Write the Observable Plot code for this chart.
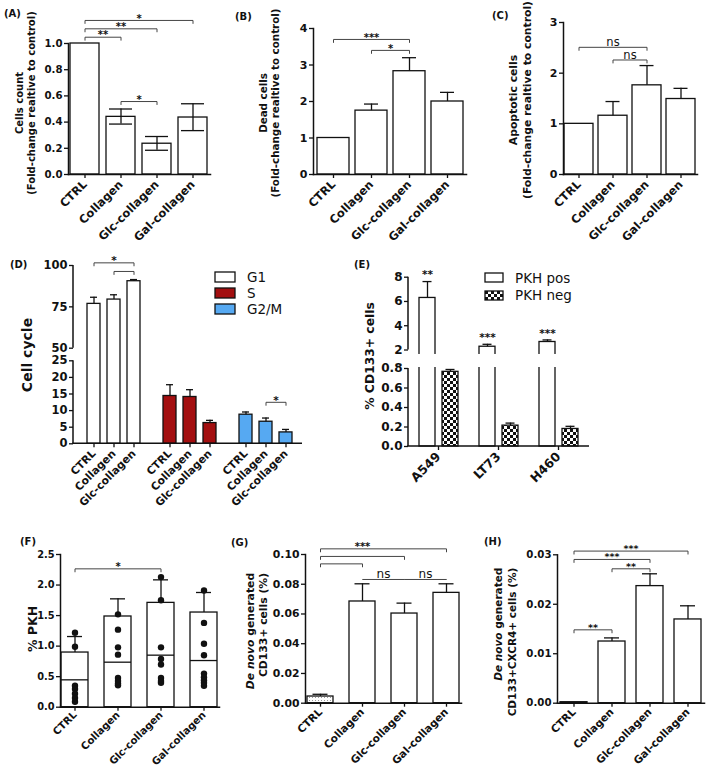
<!DOCTYPE html>
<html>
<head>
<meta charset="utf-8">
<script src="https://cdn.jsdelivr.net/npm/d3@7"></script>
<script src="https://cdn.jsdelivr.net/npm/@observablehq/plot@0.6"></script>
<style>
  html, body { margin: 0; padding: 0; background: #fff; }
  #fig { position: relative; width: 709px; height: 769px; overflow: hidden; background: #fff; color: #111;
         font-family: "DejaVu Sans", sans-serif; }
  .panel { position: absolute; }
  .tag { position: absolute; font-weight: bold; font-size: 10px; line-height: 12px; }
  .ytitle { position: absolute; font-weight: bold; white-space: nowrap; }
  .leg { position: absolute; }
  .leg, .leg * { font-family: "DejaVu Sans", sans-serif !important; font-weight: normal; color: #111; }
  .leg svg { overflow: visible; margin-right: 12px !important; }
  .leg svg rect { stroke: #111; stroke-width: 1.3px; }
</style>
</head>
<body>
<svg width="0" height="0" style="position:absolute">
  <defs>
    <pattern id="checker" width="6" height="6" patternUnits="userSpaceOnUse">
      <rect width="6" height="6" fill="#fff"/>
      <rect width="3" height="3" fill="#111"/>
      <rect x="3" y="3" width="3" height="3" fill="#111"/>
    </pattern>
    <pattern id="dotfill" width="3" height="3" patternUnits="userSpaceOnUse">
      <rect width="3" height="3" fill="#fff"/>
      <rect x="1" y="1" width="1" height="1" fill="#999"/>
    </pattern>
  </defs>
</svg>
<div id="fig"></div>
<script>
// ================= DATA =================
const treatments4 = ["CTRL", "Collagen", "Glc-collagen", "Gal-collagen"];
const treatments3 = ["CTRL", "Collagen", "Glc-collagen"];

// (A) Cells count
const aMean = [1.0, 0.44, 0.235, 0.435];
const aLow  = [null, 0.385, 0.185, 0.335];
const aHigh = [null, 0.50, 0.29, 0.54];
const aTicks = [0, 0.2, 0.4, 0.6, 0.8, 1.0];
const aBrackets = [
  {from: "CTRL", to: "Collagen", y: 1.048, label: "**"},
  {from: "CTRL", to: "Glc-collagen", y: 1.112, label: "**"},
  {from: "CTRL", to: "Gal-collagen", y: 1.176, label: "*"},
  {from: "Collagen", to: "Glc-collagen", y: 0.557, label: "*"}
];

// (B) Dead cells
const bMean = [1.0, 1.75, 2.83, 2.0];
const bHigh = [null, 1.93, 3.2, 2.25];
const bTicks = [0, 1, 2, 3, 4];
const bBrackets = [
  {from: "CTRL", to: "Glc-collagen", y: 3.70, label: "***"},
  {from: "Collagen", to: "Glc-collagen", y: 3.40, label: "*"}
];

// (C) Apoptotic cells
const cMean = [1.0, 1.16, 1.76, 1.49];
const cHigh = [null, 1.44, 2.15, 1.70];
const cTicks = [0, 1, 2, 3];
const cBrackets = [
  {from: "CTRL", to: "Glc-collagen", y: 2.51, label: "ns"},
  {from: "Collagen", to: "Glc-collagen", y: 2.26, label: "ns"}
];

// (D) Cell cycle
const phases = ["G1", "S", "G2/M"];
const phaseColors = ["white", "#a30f10", "#56a9f2"];
const dG1Mean = [76.8, 79.4, 90.5];
const dG1High = [80.8, 82.3, 91.5];
const dSMean = [14.4, 14.1, 6.25];
const dSHigh = [17.8, 16.3, 7.06];
const dG2MMean = [8.77, 6.65, 3.43];
const dG2MHigh = [9.58, 7.76, 4.33];
const dTicks = [0, 5, 10, 15, 20, 25, 50, 75, 100];
const dDomain = [0, 25, 50, 100];           // broken axis: 0–25 | 50–100
const dAxisSegments = [[0, 25], [50, 100]];
const dBrackets = [
  {phase: "G1", from: "CTRL", to: "Glc-collagen", y: 101.6, label: "*"},
  {phase: "G1", from: "Collagen", to: "Glc-collagen", y: 96.4, label: ""},
  {phase: "G2/M", from: "Collagen", to: "Glc-collagen", y: 12.5, label: "*"}
];

// (E) % CD133+ cells
const cellLines = ["A549", "LT73", "H460"];
const pkhGroups = ["PKH pos", "PKH neg"];
const pkhFills = ["white", "url(#checker)"];
const ePosMean = [6.29, 2.27, 2.66];
const ePosHigh = [7.64, 2.47, 2.83];
const eNegMean = [0.766, 0.214, 0.18];
const eNegHigh = [0.79, 0.24, 0.207];
const eStars = ["**", "***", "***"];
const eTicks = [0, 0.2, 0.4, 0.6, 0.8, 2, 4, 6, 8];
const eDomain = [0, 0.8, 2, 8];             // broken axis: 0–0.8 | 2–8
const eAxisSegments = [[0, 0.8], [2, 8]];
const eGap = [0.865, 1.71];

// (F) % PKH
const fMean = [0.895, 1.485, 1.708, 1.55];
const fMedian = [0.448, 0.737, 0.852, 0.764];
const fHigh = [1.157, 1.774, 2.085, 1.878];
const fDotsCTRL = [1.22, 0.99, 0.35, 0.30, 0.22, 0.15, 0.09];
const fDotsCollagen = [1.52, 1.27, 0.98, 0.86, 0.48, 0.43, 0.39, 0.36];
const fDotsGlc = [2.13, 1.75, 0.98, 0.79, 0.70, 0.48, 0.43, 0.40];
const fDotsGal = [1.91, 1.38, 1.04, 0.85, 0.55, 0.49, 0.44, 0.40, 0.35];
const fTicks = [0, 0.5, 1.0, 1.5, 2.0, 2.5];
const fBrackets = [{from: "CTRL", to: "Glc-collagen", y: 2.265, label: "*"}];

// (G) De novo CD133+
const gMean = [0.0045, 0.0684, 0.0603, 0.0742];
const gHigh = [0.006, 0.0803, 0.0673, 0.0803];
const gFills = ["url(#dotfill)", "white", "white", "white"];
const gTicks = [0, 0.02, 0.04, 0.06, 0.08, 0.10];
const gBrackets = [
  {from: "CTRL", to: "Gal-collagen", y: 0.1038, label: ""},
  {from: "CTRL", to: "Glc-collagen", y: 0.0987, label: "***", labelY: 0.1038},
  {from: "CTRL", to: "Collagen", y: 0.0937, label: ""},
  {from: "Collagen", to: "Glc-collagen", y: 0.0832, label: "ns", flat: true},
  {from: "Glc-collagen", to: "Gal-collagen", y: 0.0832, label: "ns", flat: true}
];

// (H) De novo CD133+CXCR4+
const hMean = [0.0002, 0.01247, 0.02367, 0.01693];
const hHigh = [null, 0.0132, 0.02616, 0.01969];
const hFills = ["url(#dotfill)", "white", "white", "white"];
const hTicks = [0, 0.01, 0.02, 0.03];
const hBrackets = [
  {from: "CTRL", to: "Gal-collagen", y: 0.03075, label: "***"},
  {from: "CTRL", to: "Glc-collagen", y: 0.02906, label: "***"},
  {from: "Collagen", to: "Glc-collagen", y: 0.02717, label: "**"},
  {from: "CTRL", to: "Collagen", y: 0.01483, label: "**"}
];

// ================= HELPERS =================
const FONT = '"DejaVu Sans", sans-serif';
const INK = "#111";
const baseStyle = {fontFamily: FONT, fontSize: "10px", fontWeight: "bold", background: "none", overflow: "visible", color: INK};
const fig = document.getElementById("fig");

function place(node, left, top, width) {
  const d = document.createElement("div");
  d.className = "panel";
  d.style.left = left + "px";
  d.style.top = top + "px";
  if (width) d.style.width = width + "px";
  d.appendChild(node);
  fig.appendChild(d);
  return d;
}
function tag(text, left, top) {
  const d = document.createElement("div");
  d.className = "tag";
  d.textContent = text;
  d.style.left = left + "px";
  d.style.top = top + "px";
  fig.appendChild(d);
}
function yTitle(lines, cx, cy, size, lh, align = "center") {
  const d = document.createElement("div");
  d.className = "ytitle";
  d.style.left = cx + "px";
  d.style.top = cy + "px";
  d.style.fontSize = size + "px";
  d.style.lineHeight = lh + "px";
  d.style.textAlign = align;
  d.style.transform = "translate(-50%, -50%) rotate(-90deg)";
  for (const ln of lines) {
    const s = document.createElement("div");
    s.innerHTML = ln;
    d.appendChild(s);
  }
  fig.appendChild(d);
}
function slopeAt(domain, range, v) {
  for (let i = 0; i < domain.length - 1; i++) {
    if (v <= domain[i + 1] || i === domain.length - 2)
      return Math.abs((range[i + 1] - range[i]) / (domain[i + 1] - domain[i]));
  }
}
// place bracket labels halfway between the two bands, via the x scale
const midX = (data, facets, channels, scales) => ({
  data, facets,
  channels: {x: {value: Float64Array.from(data, b => (scales.x(b.from) + scales.x(b.to)) / 2)}}
});
function bracketMarks(brs, dropOf, opt = {}) {
  const {facet = {}, starSize = 10, nsSize = 11.5, starDy = -2, nsDy = -5} = opt;
  const pts = brs.flatMap((b, id) => {
    const d = b.flat ? 0 : dropOf(b.y);
    return [[b.from, b.y - d], [b.from, b.y], [b.to, b.y], [b.to, b.y - d]]
      .map(([cat, yy]) => ({...b, id, cat, yy}));
  });
  const labeled = brs.filter(b => b.label);
  const isStar = b => b.label.includes("*");
  return [
    Plot.line(pts, {...facet, x: "cat", y: "yy", z: "id", stroke: "#444", strokeWidth: 1}),
    Plot.text(labeled.filter(isStar), {...facet, y: b => b.labelY ?? b.y, text: "label",
      fontSize: starSize, dy: starDy, initializer: midX}),
    Plot.text(labeled.filter(b => !isStar(b)), {...facet, y: b => b.labelY ?? b.y, text: "label",
      fontSize: nsSize, fontWeight: "normal", dy: nsDy, initializer: midX})
  ];
}
function brokenAxes(svg, o, segments) {
  const y = svg.scale("y");
  const g = d3.select(svg).append("g").attr("stroke", INK).attr("stroke-width", 1.5).attr("fill", "none");
  for (const [a, b] of segments) {
    g.append("line").attr("x1", o.mL).attr("x2", o.mL).attr("y1", y.apply(a)).attr("y2", y.apply(b));
  }
  g.append("line").attr("x1", o.mL - 0.75).attr("x2", o.width - o.mR)
    .attr("y1", y.apply(0)).attr("y2", y.apply(0));
}

function barPanel(o) {
  const rows = o.cats.map((cat, i) => ({
    cat, mean: o.mean[i], high: o.high[i],
    low: o.low ? o.low[i] : null,
    median: o.median ? o.median[i] : null,
    fill: o.fills ? o.fills[i] : "white"
  }));
  const err = rows.filter(d => d.high != null);
  const lows = rows.filter(d => d.low != null);
  const slope = (o.height - o.mB - o.mT) / (o.domain[1] - o.domain[0]);
  const marks = [
    Plot.barY(rows, {x: "cat", y: "mean", fill: "fill", stroke: INK, strokeWidth: 1.3})
  ];
  if (o.median) marks.push(Plot.tickY(rows, {x: "cat", y: "median", stroke: INK, strokeWidth: 1.3}));
  marks.push(
    Plot.ruleX(err, {x: "cat", y1: d => d.low ?? d.mean, y2: "high", stroke: INK, strokeWidth: 1.3}),
    Plot.tickY(err, {x: "cat", y: "high", insetLeft: o.cap, insetRight: o.cap, stroke: INK, strokeWidth: 1.3}),
    Plot.tickY(lows, {x: "cat", y: "low", insetLeft: o.cap, insetRight: o.cap, stroke: INK, strokeWidth: 1.3})
  );
  if (o.dots) marks.push(Plot.dot(o.dots, {x: "cat", y: "v", r: 3.2, fill: INK}));
  marks.push(...bracketMarks(o.brackets, () => 3 / slope, o.bracketOpt));
  marks.push(
    Plot.frame({anchor: "left", stroke: INK, strokeWidth: 1.5}),
    Plot.frame({anchor: "bottom", stroke: INK, strokeWidth: 1.5}),
    Plot.axisY({ticks: o.ticks, tickFormat: o.fmt, tickSize: 4, tickPadding: 2, label: null,
      fontSize: o.yFont ?? 10.5, stroke: INK, strokeWidth: 1.3}),
    Plot.axisX({tickRotate: -45, tickSize: 4, tickPadding: o.xPad ?? 4, label: null,
      fontSize: o.xFont ?? 11.5, stroke: INK, strokeWidth: 1.3})
  );
  const svg = Plot.plot({
    width: o.width, height: o.height,
    marginLeft: o.mL, marginRight: o.mR, marginTop: o.mT, marginBottom: o.mB,
    x: {domain: o.cats, paddingInner: o.pi, paddingOuter: o.po},
    y: {domain: o.domain},
    color: {type: "identity"},
    style: baseStyle,
    marks
  });
  place(svg, o.left, o.top, o.width);
}

// ================= PANELS A, B, C =================
barPanel({left: 0, top: 0, width: 240, height: 250, mL: 68, mR: 30, mT: 43, mB: 76,
  cats: treatments4, mean: aMean, low: aLow, high: aHigh, brackets: aBrackets,
  pi: 0.185, po: 0.055, cap: 3, domain: [0, 1], ticks: aTicks, fmt: d3.format(".1f"), yFont: 10.2});
barPanel({left: 230, top: 0, width: 240, height: 250, mL: 83, mR: 4, mT: 28, mB: 76,
  cats: treatments4, mean: bMean, high: bHigh, brackets: bBrackets,
  pi: 0.165, po: 0.078, cap: 9, domain: [0, 4], ticks: bTicks, fmt: d3.format("d"), yFont: 11});
barPanel({left: 460, top: 0, width: 249, height: 250, mL: 103, mR: 12, mT: 22, mB: 76,
  cats: treatments4, mean: cMean, high: cHigh, brackets: cBrackets,
  pi: 0.147, po: 0.03, cap: 7.5, domain: [0, 3], ticks: cTicks, fmt: d3.format("d"), yFont: 11});

// ================= PANEL D =================
(function panelD() {
  const o = {left: 0, top: 255, width: 360, height: 290, mL: 73, mR: 58, mT: 10, mB: 101.7,
    range: [188.3, 105.3, 92.7, 10], cap: 3};
  const means = [dG1Mean, dSMean, dG2MMean], highs = [dG1High, dSHigh, dG2MHigh];
  const rows = phases.flatMap((phase, p) => treatments3.map((cat, i) => ({
    phase, cat, mean: means[p][i], high: highs[p][i], fill: phaseColors[p]})));
  const marks = [
    Plot.barY(rows, {fx: "phase", x: "cat", y: "mean", fill: "fill", stroke: INK, strokeWidth: 1.3}),
    Plot.ruleX(rows, {fx: "phase", x: "cat", y1: "mean", y2: "high", stroke: INK, strokeWidth: 1.3}),
    Plot.tickY(rows, {fx: "phase", x: "cat", y: "high", insetLeft: o.cap, insetRight: o.cap, stroke: INK, strokeWidth: 1.3}),
    ...bracketMarks(dBrackets, v => 3 / slopeAt(dDomain, o.range, v), {facet: {fx: "phase"}, starSize: 10.5}),
    Plot.axisY({ticks: dTicks, tickFormat: d3.format("d"), tickSize: 4, tickPadding: 2, label: null,
      fontSize: 11.5, stroke: INK, strokeWidth: 1.3}),
    Plot.axisX({tickRotate: -45, tickSize: 4, tickPadding: 4, label: null, fontSize: 10.8, stroke: INK, strokeWidth: 1.3})
  ];
  const svg = Plot.plot({
    width: o.width, height: o.height,
    marginLeft: o.mL, marginRight: o.mR, marginTop: o.mT, marginBottom: o.mB,
    fx: {domain: phases, axis: null, label: null, paddingInner: 0.079, paddingOuter: 0.046, align: 0},
    x: {domain: treatments3, paddingInner: 0.362, paddingOuter: 0.348, align: 0.82},
    y: {type: "linear", domain: dDomain, range: o.range},
    color: {type: "identity"},
    style: baseStyle,
    marks
  });
  brokenAxes(svg, o, dAxisSegments);
  place(svg, o.left, o.top, o.width);

  const leg = Plot.legend({color: {type: "ordinal", domain: phases, range: phaseColors},
    columns: 1, swatchWidth: 20, swatchHeight: 10,
    style: {fontSize: "13.5px", lineHeight: "15px", background: "none", margin: "0"}});
  const wrap = document.createElement("div");
  wrap.className = "leg";
  wrap.style.left = "215px"; wrap.style.top = "269.5px";
  wrap.style.fontSize = "13.5px"; wrap.style.lineHeight = "15px";
  wrap.appendChild(leg);
  fig.appendChild(wrap);
})();

// ================= PANEL E =================
(function panelE() {
  const o = {left: 360, top: 255, width: 349, height: 290, mL: 48, mR: 120, mT: 21.7, mB: 99,
    range: [191, 113, 94.5, 21.7], cap: 3.5};
  const rows = cellLines.flatMap((cell, i) => [
    {cell, grp: pkhGroups[0], mean: ePosMean[i], high: ePosHigh[i], fill: pkhFills[0]},
    {cell, grp: pkhGroups[1], mean: eNegMean[i], high: eNegHigh[i], fill: pkhFills[1]}
  ]);
  const stars = cellLines.map((cell, i) => ({cell, grp: pkhGroups[0], high: ePosHigh[i], label: eStars[i]}));
  const marks = [
    Plot.barY(rows, {fx: "cell", x: "grp", y: "mean", fill: "fill", stroke: INK, strokeWidth: 1.3}),
    Plot.rect([eGap], {y1: d => d[0], y2: d => d[1], fill: "white"}),
    Plot.ruleX(rows, {fx: "cell", x: "grp", y1: "mean", y2: "high", stroke: INK, strokeWidth: 1.3}),
    Plot.tickY(rows, {fx: "cell", x: "grp", y: "high", insetLeft: o.cap, insetRight: o.cap, stroke: INK, strokeWidth: 1.3}),
    Plot.text(stars, {fx: "cell", x: "grp", y: "high", text: "label", fontSize: 10.5, dy: -6.5}),
    Plot.axisY({ticks: eTicks, tickFormat: d => d < 1 ? d.toFixed(1) : String(d), tickSize: 4, tickPadding: 2,
      label: null, fontSize: 12, stroke: INK, strokeWidth: 1.3}),
    Plot.axisFx({anchor: "bottom", tickRotate: -45, tickSize: 4, tickPadding: 4, label: null,
      fontSize: 12.5, stroke: INK, strokeWidth: 1.3})
  ];
  const svg = Plot.plot({
    width: o.width, height: o.height,
    marginLeft: o.mL, marginRight: o.mR, marginTop: o.mT, marginBottom: o.mB,
    fx: {domain: cellLines, label: null, paddingInner: 0.008, paddingOuter: 0, align: 0},
    x: {domain: pkhGroups, axis: null, paddingInner: 0.326, paddingOuter: 0.467},
    y: {type: "linear", domain: eDomain, range: o.range},
    color: {type: "identity"},
    style: baseStyle,
    marks
  });
  brokenAxes(svg, o, eAxisSegments);
  place(svg, o.left, o.top, o.width);

  const leg = Plot.legend({color: {type: "ordinal", domain: pkhGroups, range: pkhFills},
    columns: 1, swatchWidth: 18, swatchHeight: 9,
    style: {fontSize: "13.5px", lineHeight: "16.5px", background: "none", margin: "0"}});
  const wrap = document.createElement("div");
  wrap.className = "leg";
  wrap.style.left = "485px"; wrap.style.top = "269.7px";
  wrap.style.fontSize = "13.5px"; wrap.style.lineHeight = "16.5px";
  wrap.appendChild(leg);
  fig.appendChild(wrap);
})();

// ================= PANELS F, G, H =================
const fDotGroups = [fDotsCTRL, fDotsCollagen, fDotsGlc, fDotsGal];
const fDots = treatments4.flatMap((cat, i) => fDotGroups[i].map(v => ({cat, v})));
barPanel({left: 0, top: 540, width: 235, height: 229, mL: 60, mR: 16, mT: 14, mB: 62.3,
  cats: treatments4, mean: fMean, median: fMedian, high: fHigh, dots: fDots, brackets: fBrackets,
  pi: 0.37, po: 0.03, cap: 6, domain: [0, 2.5], ticks: fTicks, fmt: d3.format(".1f"),
  yFont: 9.8, xFont: 10.2, xPad: 2});
barPanel({left: 230, top: 540, width: 235, height: 229, mL: 75, mR: 4, mT: 14, mB: 66.3,
  cats: treatments4, mean: gMean, high: gHigh, fills: gFills, brackets: gBrackets,
  pi: 0.39, po: 0.023, cap: 5.5, domain: [0, 0.1], ticks: gTicks, fmt: d3.format(".2f"),
  yFont: 10.8, xFont: 10.6, xPad: 3, bracketOpt: {nsSize: 12, nsDy: -5}});
barPanel({left: 460, top: 540, width: 249, height: 229, mL: 97, mR: 5, mT: 14.3, mB: 66.3,
  cats: treatments4, mean: hMean, high: hHigh, fills: hFills, brackets: hBrackets,
  pi: 0.30, po: 0.05, cap: 6, domain: [0, 0.03], ticks: hTicks, fmt: d3.format(".2f"),
  yFont: 10.2, xFont: 10.6, xPad: 3, bracketOpt: {starSize: 9.5}});

// ================= TEXT: panel tags & axis titles =================
tag("(A)", 4, 8);
tag("(B)", 235, 11);
tag("(C)", 492, 10);
tag("(D)", 10, 259);
tag("(E)", 354, 259);
tag("(F)", 20, 536);
tag("(G)", 231, 537);
tag("(H)", 484, 536);

yTitle(["Cells count", "(Fold-change realtive to control)"], 26, 103, 10, 12);
yTitle(["Dead cells", "(Fold-change realtive to control)"], 269, 103, 10.3, 12);
yTitle(["Apoptotic cells", "(Fold-change realtive to control)"], 520, 100, 10.8, 13.5);
yTitle(["Cell cycle"], 27, 355, 14, 16);
yTitle(["% CD133+ cells"], 370, 356, 12.3, 15);
yTitle(["% PKH"], 32, 629, 12.5, 15);
yTitle(["<i>De novo</i> generated", "CD133+ cells (%)"], 256.5, 631, 10.8, 13, "right");
yTitle(["<i>De novo</i> generated", "CD133+CXCR4+ cells (%)"], 505, 642, 10.5, 14, "right");
</script>
</body>
</html>
